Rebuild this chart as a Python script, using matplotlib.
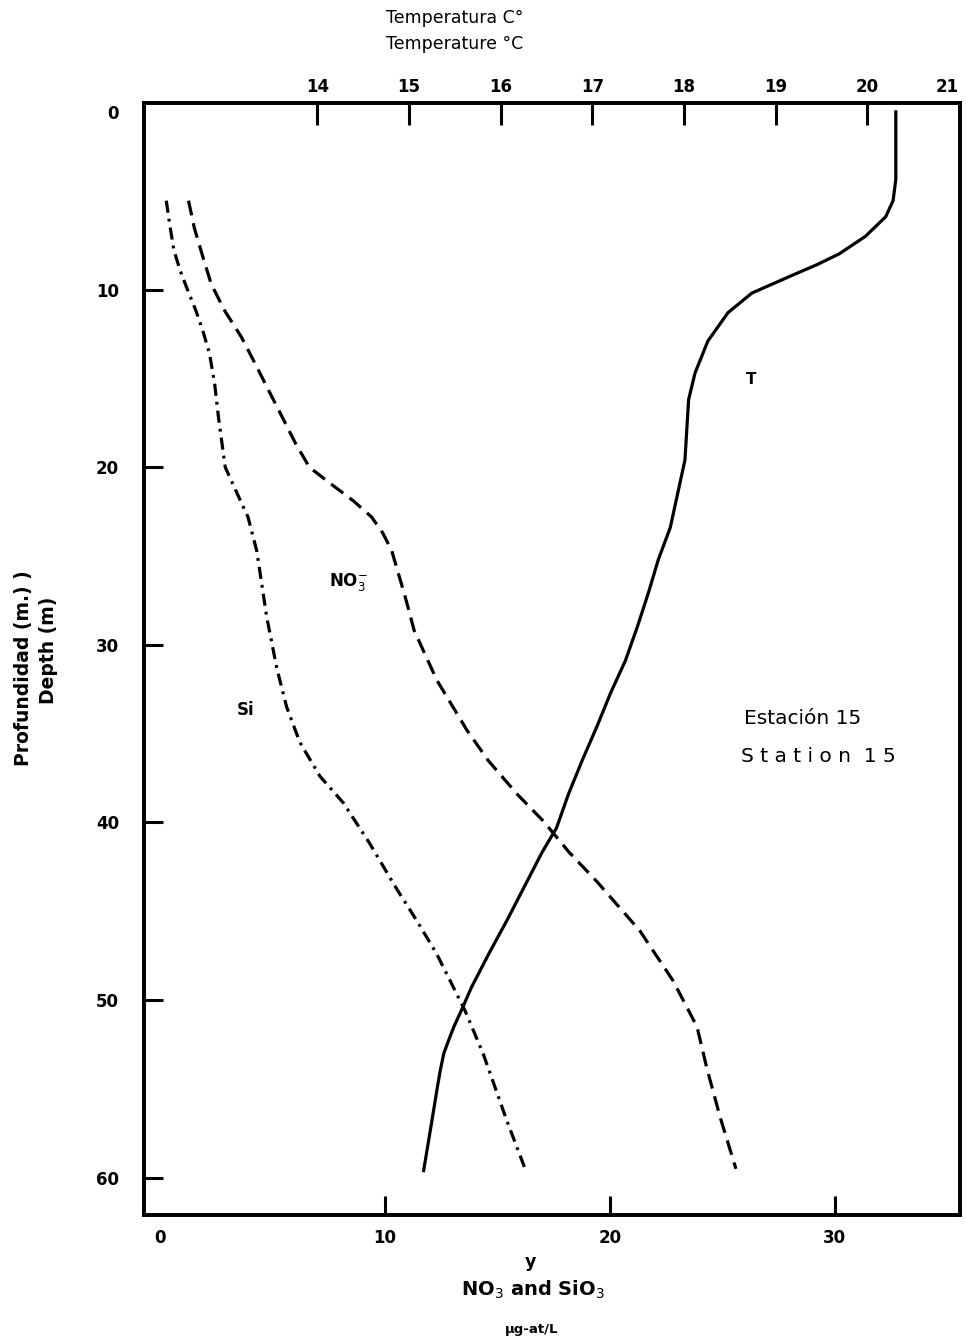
import matplotlib
matplotlib.use("Agg")
import matplotlib.pyplot as plt

# temperature profile (top axis, deg C)
temp_depth = [0, 3.8, 5.0, 5.9, 7.0, 8.0, 8.6, 9.2, 10.2, 11.3, 12.9, 14.7, 16.2, 19.6, 21.5,
              23.4, 25.2, 27.1, 29.0, 30.9, 32.7, 34.6, 36.5, 38.4, 40.3, 41.7, 43.7,
              45.5, 47.4, 49.3, 50.6, 51.5, 52.3, 53.0, 54.0, 54.9, 56.8, 59.6]
temp = [20.31, 20.31, 20.28, 20.20, 19.98, 19.69, 19.45, 19.18, 18.74, 18.48, 18.26, 18.12,
        18.05, 18.01, 17.93, 17.85, 17.72, 17.61, 17.49, 17.36, 17.20, 17.05, 16.89, 16.74,
        16.61, 16.45, 16.25, 16.07, 15.87, 15.68, 15.57, 15.49, 15.43, 15.38, 15.34, 15.31,
        15.25, 15.16]

# nitrate (bottom axis, ug-at/L)
no3_depth = [5.0, 6.5, 7.8, 9.7, 11.2, 12.7, 14.2, 15.7, 17.2, 18.7, 20.0, 20.9, 21.9,
             22.8, 23.7, 24.7, 27.3, 29.2, 32.0, 34.8, 36.5, 38.4, 39.9, 41.7, 43.3, 46.1,
             48.9, 51.5, 53.8, 56.6, 59.5]
no3 = [1.27, 1.52, 1.82, 2.28, 2.88, 3.63, 4.24, 4.84, 5.44, 6.04, 6.64, 7.55, 8.6,
       9.4, 9.9, 10.3, 10.9, 11.3, 12.31, 13.64, 14.58, 15.87, 17.02, 18.2, 19.4, 21.33,
       22.8, 23.87, 24.3, 24.9, 25.6]

# silicate (bottom axis, ug-at/L)
si_depth = [5.0, 6.4, 7.8, 8.9, 10.0, 11.2, 12.3, 13.6, 15.3, 17.2, 20.0, 21.4, 22.8,
            24.7, 28.4, 31.3, 33.5, 35.5, 37.4, 38.9, 41.2, 43.7, 45.5, 47.4, 49.3,
            50.6, 53.0, 54.9, 56.8, 59.4]
si = [0.28, 0.44, 0.62, 0.89, 1.22, 1.6, 1.9, 2.2, 2.43, 2.6, 2.9, 3.4, 3.91,
      4.3, 4.74, 5.19, 5.63, 6.22, 7.11, 8.15, 9.33, 10.5, 11.4, 12.3, 13.05,
      13.56, 14.36, 14.89, 15.42, 16.2]

depth_ticks = [0, 10, 20, 30, 40, 50, 60]
conc_ticks = [0, 10, 20, 30]
temp_ticks = [14, 15, 16, 17, 18, 19, 20, 21]

W, H = 966, 1341
fig = plt.figure(figsize=(W / 100, H / 100), dpi=100)
ax = fig.add_axes([144 / W, 1 - 1215 / H, (960 - 144) / W, (1215 - 103) / H])

lw = 2.3
ax.plot(no3, no3_depth, color="black", lw=lw, linestyle=(0, (4.7, 2.5)))
ax.plot(si, si_depth, color="black", lw=lw, linestyle=(0, (3.8, 1.9, 0.9, 1.9)))
ax.set_xlim(-0.71, 35.56)
ax.set_ylim(62.1, -0.5)

ax2 = ax.twiny()
ax2.plot(temp, temp_depth, color="black", lw=lw)
ax2.set_xlim(12.11, 21.01)

for a in (ax, ax2):
    for s in a.spines.values():
        s.set_linewidth(2.6)

ax.set_xticks(conc_ticks)
ax.set_yticks(depth_ticks)
ax.tick_params(axis="x", direction="in", length=14, width=2.2, labelsize=12, pad=10)
ax.tick_params(axis="y", direction="in", length=14, width=2.2, labelsize=12, pad=18)
ax.xaxis.get_major_ticks()[0].tick1line.set_visible(False)
ax.yaxis.get_major_ticks()[0].tick1line.set_visible(False)
for lab in ax.get_xticklabels() + ax.get_yticklabels():
    lab.set_fontweight("bold")

ax2.set_xticks(temp_ticks)
ax2.tick_params(axis="x", direction="in", length=16, width=2.2, labelsize=12, pad=5)
ax2.xaxis.get_major_ticks()[-1].tick2line.set_visible(False)
for lab in ax2.get_xticklabels():
    lab.set_fontweight("bold")
ax2.get_xticklabels()[-1].set_horizontalalignment("right")


def ftext(x, y, s, **kw):
    fig.text(x / W, 1 - y / H, s, ha="center", va="center", **kw)


ftext(455, 18, "Temperatura C°", fontsize=12.5)
ftext(455, 44, "Temperature °C", fontsize=12.5)
ftext(24, 668, "Profundidad (m.) )", fontsize=13.5, fontweight="bold", rotation=90)
ftext(49, 650, "Depth (m)", fontsize=13.5, fontweight="bold", rotation=90)
ftext(530, 1262, "y", fontsize=12.5, fontweight="bold")
ftext(533, 1290, r"NO$_3$ and SiO$_3$", fontsize=14, fontweight="bold")
ftext(532, 1330, "µg-at/L", fontsize=9.5, fontweight="bold")

ftext(348, 582, r"NO$_3^{-}$", fontsize=12, fontweight="bold")
ftext(246, 710, "Si", fontsize=12, fontweight="bold")
ftext(751, 380, "T", fontsize=11, fontweight="bold")
ftext(803, 718, "Estación 15", fontsize=14.5)
ftext(818, 756, "S t a t i o n  1 5", fontsize=14.5)

fig.savefig("out.png", dpi=100)
